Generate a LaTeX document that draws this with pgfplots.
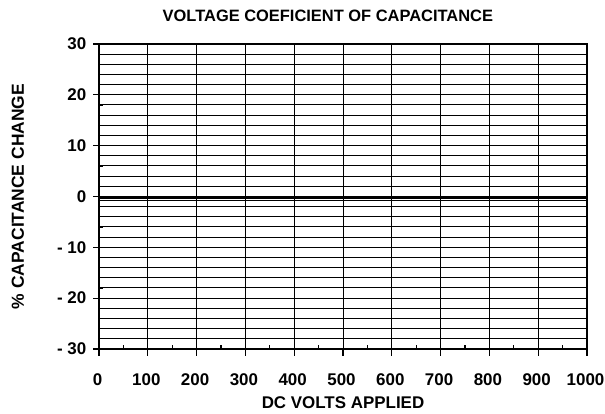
\documentclass[border=0pt]{standalone}
\usepackage{fontspec}
\setmainfont{Liberation Sans}
\usepackage{pgfplots}
\pgfplotsset{compat=1.18}
\begin{document}
\begin{tikzpicture}
\path[use as bounding box] (0,0) rectangle (605bp,414bp);
\begin{axis}[
  at={(99bp,65bp)}, anchor=south west,
  width=488bp, height=305bp, scale only axis,
  xmin=0, xmax=1000, ymin=-30, ymax=30,
  xtick={0,100,...,1000},
  xticklabels={0,100,200,300,400,500,600,700,800,900,1000},
  minor xtick={50,150,...,950},
  ytick={-30,-20,...,30},
  yticklabels={- 30,- 20,- 10,0,10,20,30},
  minor ytick={-28,-26,-24,-22,-18,-16,-14,-12,-8,-6,-4,-2,2,4,6,8,12,14,16,18,22,24,26,28},
  xmajorgrids, ymajorgrids, yminorgrids,
  grid style={black, line width=1bp},
  minor grid style={black, line width=1bp},
  axis line style={black, line width=1.1bp},
  tick align=inside,
  xtick pos=left, ytick pos=left,
  major tick length=-6.5bp,
  minor tick length=4bp,
  every major tick/.append style={black, line width=1.3bp},
  every minor tick/.append style={black, line width=1.1bp},
  font=\fontsize{16.5}{19}\selectfont\bfseries,
  /pgf/number format/assume math mode=true,
  xticklabel style={anchor=base, inner sep=0pt, yshift=-36bp, xshift=-1.5bp, font=\fontsize{17}{19}\selectfont\bfseries},
  yticklabel style={anchor=east, inner sep=0pt, xshift=-12.5bp, font=\fontsize{17}{19}\selectfont\bfseries},
  title={VOLTAGE COEFICIENT OF CAPACITANCE},
  title style={at={(axis description cs:0.469,1)}, anchor=base, yshift=17bp, inner sep=0pt},
  xlabel={DC VOLTS APPLIED},
  xlabel style={at={(axis description cs:0.5,-0.1967)}, anchor=base, inner sep=0pt, font=\fontsize{17}{19}\selectfont\bfseries},
  ylabel={\% CAPACITANCE CHANGE},
  ylabel style={at={(axis description cs:-0.1537,0.5)}, anchor=base, inner sep=0pt, font=\fontsize{17.5}{19}\selectfont\bfseries},
]
\addplot[black, line width=3bp] coordinates {(0,-0.25) (1000,-0.25)};
\addplot[black, line width=1bp] coordinates {(0,-0.7) (1000,-0.7)};
\end{axis}
\end{tikzpicture}
\end{document}
